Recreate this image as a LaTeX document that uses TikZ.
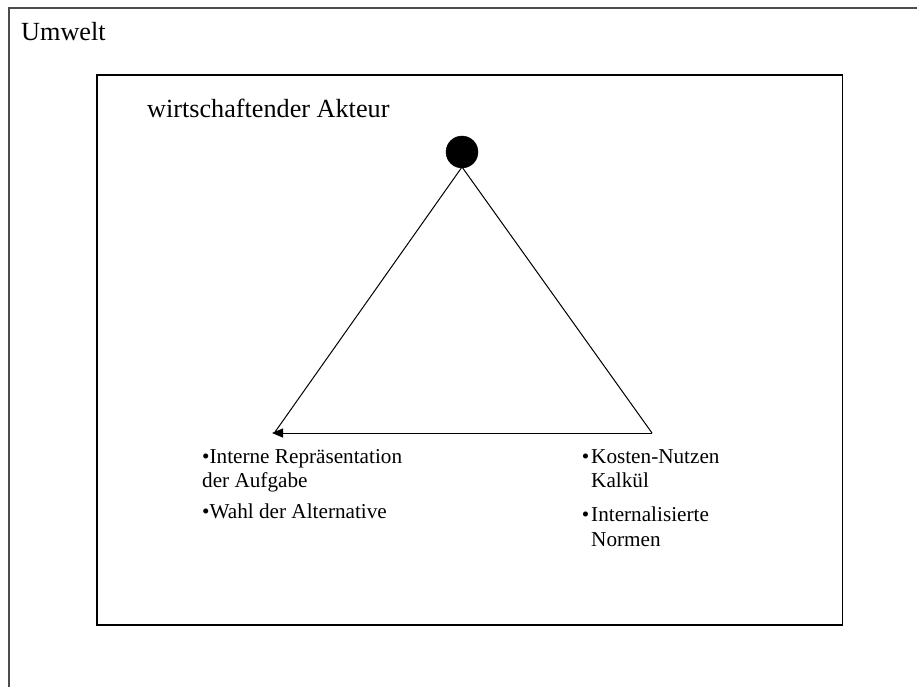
\documentclass[tikz,border=0pt]{standalone}
\usepackage{fontspec}
\setmainfont{Liberation Serif}
\usetikzlibrary{arrows.meta}
\tikzset{
  big/.style={anchor=base west, inner sep=0pt, font=\fontsize{26.2}{30}\selectfont},
  small/.style={anchor=base west, inner sep=0pt, font=\fontsize{21.2}{24}\selectfont},
  edge/.style={line width=1pt, black},
}
\begin{document}
\begin{tikzpicture}[x=1pt,y=-1pt]
\useasboundingbox (0,0) rectangle (917,686);
\clip (0,0) rectangle (917,686);
% outer box (Umwelt)
\draw[line width=1.5pt, black!70] (930,8) -- (9,8) -- (9,700);
\node[big] (umwelt) at (21,40) {Umwelt};
% inner box (Akteur)
\draw[line width=1.5pt, black] (97,75) rectangle (842.5,625);
\node[big] (akteur) at (147,117) {wirtschaftender Akteur};
% actor
\node[circle, fill=black, draw=black, minimum size=32pt, inner sep=0pt] (head) at (462,152) {};
\coordinate (apex) at (462,167);
\coordinate (L) at (275,432);
\coordinate (R) at (652,433);
\draw[edge] (apex) -- (L);
\draw[edge] (apex) -- (R);
\draw[edge, -{Triangle[length=11pt, width=9pt]}] (R) -- (272,433);
% left texts
\node[small] (l1) at (202,463) {•Interne Repräsentation};
\node[small] (l2) at (202,487) {der Aufgabe};
\node[small] (l3) at (202,518) {•Wahl der Alternative};
% right texts
\node[small] (r1) at (591,463) {\llap{•\hspace{2pt}}Kosten-Nutzen};
\node[small] (r2) at (591,487) {Kalkül};
\node[small] (r3) at (591,521) {\llap{•\hspace{2pt}}Internalisierte};
\node[small] (r4) at (591,546) {Normen};
\end{tikzpicture}
\end{document}
